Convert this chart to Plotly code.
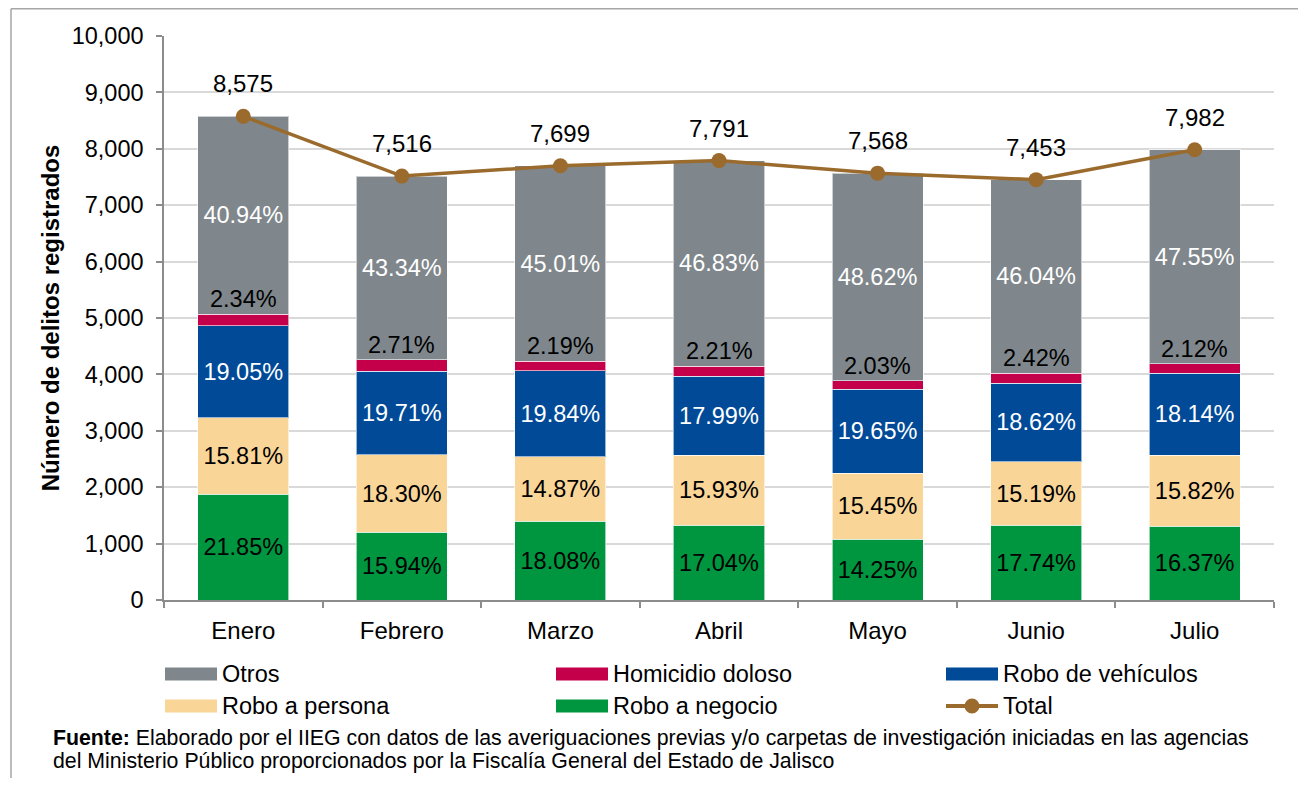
import plotly.graph_objects as go

meses = ["Enero", "Febrero", "Marzo", "Abril", "Mayo", "Junio", "Julio"]
total = [8575, 7516, 7699, 7791, 7568, 7453, 7982]
total_lbl = ["8,575", "7,516", "7,699", "7,791", "7,568", "7,453", "7,982"]

robo_negocio = [1874, 1198, 1392, 1328, 1078, 1322, 1307]
robo_persona = [1356, 1375, 1145, 1241, 1169, 1132, 1263]
robo_vehiculos = [1634, 1481, 1527, 1402, 1487, 1388, 1448]
homicidio = [201, 204, 169, 172, 154, 180, 169]
otros = [3510, 3258, 3466, 3648, 3680, 3431, 3795]

pct_negocio = ["21.85%", "15.94%", "18.08%", "17.04%", "14.25%", "17.74%", "16.37%"]
pct_persona = ["15.81%", "18.30%", "14.87%", "15.93%", "15.45%", "15.19%", "15.82%"]
pct_vehiculos = ["19.05%", "19.71%", "19.84%", "17.99%", "19.65%", "18.62%", "18.14%"]
pct_homicidio = ["2.34%", "2.71%", "2.19%", "2.21%", "2.03%", "2.42%", "2.12%"]
pct_otros = ["40.94%", "43.34%", "45.01%", "46.83%", "48.62%", "46.04%", "47.55%"]

C_OTROS = "#7F878C"
C_HOM = "#C5004A"
C_VEH = "#004A98"
C_PER = "#F9D598"
C_NEG = "#00963F"
C_TOT = "#9A6B2C"

FONT = "Liberation Sans, Arial, sans-serif"

OFF = 8  # page body margin
W, H = 1290, 770
# plot area in page pixels: x 164..1274, y 36..600
L = 164 - OFF
T = 36 - OFF
R = W - (1274 - OFF)
B = H - (600 - OFF)
PW = W - L - R
PH = H - T - B

def px(x):
    return (x - OFF - L) / PW

def py(y):
    return (H - B - (y - OFF)) / PH

fig = go.Figure()

series = [
    ("Robo a negocio", robo_negocio, pct_negocio, C_NEG, "black"),
    ("Robo a persona", robo_persona, pct_persona, C_PER, "black"),
    ("Robo de vehículos", robo_vehiculos, pct_vehiculos, C_VEH, "white"),
    ("Homicidio doloso", homicidio, None, C_HOM, "black"),
    ("Otros", otros, pct_otros, C_OTROS, "white"),
]
for name, vals, labels, color, tcol in series:
    fig.add_trace(go.Bar(
        x=meses, y=vals, name=name,
        marker=dict(color=color, line=dict(color="rgba(255,255,255,0.6)", width=1)),
        text=labels if labels else None,
        textposition="inside" if labels else "none",
        insidetextanchor="middle",
        textangle=0,
        constraintext="none",
        textfont=dict(family=FONT, size=23.5, color=tcol),
        showlegend=False,
        hoverinfo="skip",
    ))

fig.add_trace(go.Scatter(
    x=meses, y=total, name="Total", mode="lines+markers",
    line=dict(color=C_TOT, width=3.5),
    marker=dict(color=C_TOT, size=15),
    showlegend=False,
))

ann = []
for i, m in enumerate(meses):
    top = robo_negocio[i] + robo_persona[i] + robo_vehiculos[i] + homicidio[i]
    ann.append(dict(x=m, y=top, xref="x", yref="y", text=pct_homicidio[i],
                    showarrow=False, yanchor="bottom", yshift=0,
                    font=dict(family=FONT, size=23.5, color="black")))
    ann.append(dict(x=m, y=total[i], xref="x", yref="y", text=total_lbl[i],
                    showarrow=False, yanchor="bottom", yshift=17,
                    font=dict(family=FONT, size=24, color="black")))

legend_items = [
    ("Otros", C_OTROS, 165, 674, "bar"),
    ("Homicidio doloso", C_HOM, 556, 674, "bar"),
    ("Robo de vehículos", C_VEH, 946, 674, "bar"),
    ("Robo a persona", C_PER, 165, 706, "bar"),
    ("Robo a negocio", C_NEG, 556, 706, "bar"),
    ("Total", C_TOT, 946, 706, "line"),
]
shapes = []
for name, color, x0, yc, kind in legend_items:
    if kind == "bar":
        shapes.append(dict(type="rect", xref="paper", yref="paper",
                           x0=px(x0), x1=px(x0 + 52), y0=py(yc - 6.5), y1=py(yc + 6.5),
                           fillcolor=color, line=dict(width=0), layer="above"))
    else:
        shapes.append(dict(type="line", xref="paper", yref="paper",
                           x0=px(x0), x1=px(x0 + 52), y0=py(yc), y1=py(yc),
                           line=dict(color=color, width=4), layer="above"))
        shapes.append(dict(type="circle", xref="paper", yref="paper",
                           x0=px(x0 + 26 - 7.5), x1=px(x0 + 26 + 7.5),
                           y0=py(yc + 7.5), y1=py(yc - 7.5),
                           fillcolor=color, line=dict(width=0), layer="above"))
    ann.append(dict(x=px(x0 + 55), y=py(yc), xref="paper", yref="paper", text=name,
                    showarrow=False, xanchor="left", yanchor="middle",
                    font=dict(family=FONT, size=23.5, color="black")))

shapes.append(dict(type="line", xref="paper", yref="paper",
                   x0=px(11), x1=px(1310), y0=py(8.7), y1=py(8.7),
                   line=dict(color="#A6A6A6", width=1.5)))
shapes.append(dict(type="line", xref="paper", yref="paper",
                   x0=px(11), x1=px(11), y0=py(8.7), y1=py(800),
                   line=dict(color="#A6A6A6", width=1.5)))

ann.append(dict(x=px(51), y=py(738), xref="paper", yref="paper",
                text="<b>Fuente:</b> Elaborado por el IIEG con datos de las averiguaciones previas y/o carpetas de investigación iniciadas en las agencias",
                showarrow=False, xanchor="left", yanchor="middle", align="left",
                font=dict(family=FONT, size=21.3, color="black")))
ann.append(dict(x=px(51), y=py(761), xref="paper", yref="paper",
                text="del Ministerio Público proporcionados por la Fiscalía General del Estado de Jalisco",
                showarrow=False, xanchor="left", yanchor="middle", align="left",
                font=dict(family=FONT, size=21.3, color="black")))

fig.update_layout(
    width=W, height=H,
    margin=dict(l=L, r=R, t=T, b=B, autoexpand=False),
    barmode="stack", bargap=0.426,
    plot_bgcolor="white", paper_bgcolor="white",
    font=dict(family=FONT, size=23, color="black"),
    showlegend=False,
    annotations=ann, shapes=shapes,
)
fig.update_xaxes(
    range=[-0.5, 6.5], showline=True, linecolor="#8C8C8C", linewidth=1.5,
    ticks="outside", tickson="boundaries", ticklen=6, tickcolor="#8C8C8C", tickwidth=1.5,
    tickfont=dict(family=FONT, size=24, color="black"), showgrid=False,
    ticklabelstandoff=8,
)
fig.update_yaxes(
    range=[0, 10000], dtick=1000, tickformat=",d",
    showline=True, linecolor="#8C8C8C", linewidth=1.5,
    ticks="outside", ticklen=6, tickcolor="#8C8C8C", tickwidth=1.5,
    showgrid=True, gridcolor="#D9D9D9", gridwidth=1.5,
    tickfont=dict(family=FONT, size=23.5, color="black"),
    ticklabelstandoff=8,
    title=dict(text="<b>Número de delitos registrados</b>", standoff=5,
               font=dict(family=FONT, size=24, color="black")),
    zeroline=False,
)

fig.write_html("out.html")
